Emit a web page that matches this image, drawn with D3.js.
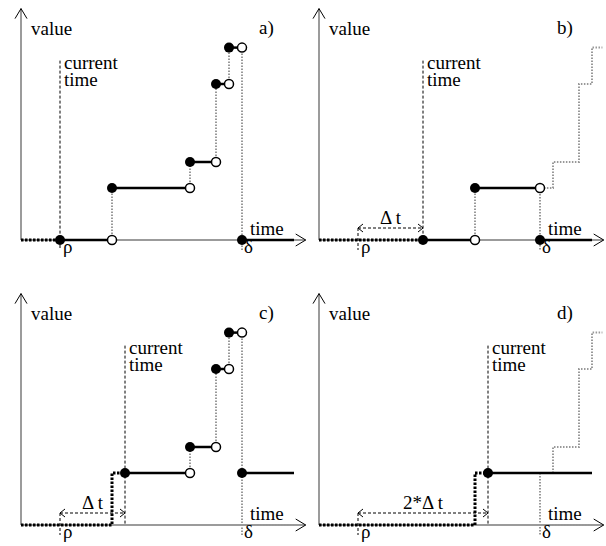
<!DOCTYPE html>
<html>
<head>
<meta charset="utf-8">
<script src="https://cdn.jsdelivr.net/npm/d3@7"></script>
<style>
body{margin:0;background:#fff;}
</style>
</head>
<body>
<svg id="chart"></svg>
<script>
// value levels of the step function
var levels = [0, 2, 3, 6, 7.4];
// times (in steps)
var rho = 3, delta = 17, dt = 5;
var panelNames = ["a)", "b)", "c)", "d)"];
var currentTimes = [3, 8, 8, 13];
var arrowLabels = [null, "\u0394 t", "\u0394 t", "2*\u0394 t"];

// solid steps: [start, end, value, open circle at end]
var stepsA = [[3,7,0,1],[7,13,2,1],[13,15,3,1],[15,16,6,1],[16,17,7.4,1],[17,21,0,0]];
var stepsB = [[8,12,0,1],[12,17,2,1],[17,21,0,0]];
var stepsC = [[8,13,2,1],[13,15,3,1],[15,16,6,1],[16,17,7.4,1],[17,21,2,0]];
var stepsD = [[13,21,2,0]];

// grey dotted jumps: [time, from value, to value]
var jumpsA = [[7,0,2],[13,2,3],[15,3,6],[16,6,7.4],[17,7.4,-0.4]];
var jumpsB = [[12,0,2],[17,2,-0.4]];
var jumpsC = [[13,2,3],[15,3,6],[16,6,7.4],[17,7.4,-0.4]];
var jumpsD = [[17,2,-0.4]];

// past values (thick dotted)
var pastA = [[0,0],[3,0]];
var pastB = [[0,0],[8,0]];
var pastC = [[0,0],[7,0],[7,2],[8,2]];
var pastD = [[0,0],[12,0],[12,2],[13,2]];

// values beyond delta (grey dotted)
var futureB = [[17.3,2],[18,2],[18,3],[20,3],[20,6],[21,6],[21,7.4],[21.8,7.4]];
var futureC = [[17,0],[21,0]];
var futureD = [[17,0],[21,0],null,[18,2],[18,3],[20,3],[20,6],[21,6],[21,7.4],[21.8,7.4]];

var panels = [
  {steps: stepsA, jumps: jumpsA, past: pastA, future: null},
  {steps: stepsB, jumps: jumpsB, past: pastB, future: futureB},
  {steps: stepsC, jumps: jumpsC, past: pastC, future: futureC},
  {steps: stepsD, jumps: jumpsD, past: pastD, future: futureD}
];
var origins = [[21,240],[319,240],[21,525],[319,525]];

var width = 606, height = 546;
var svg = d3.select("#chart").attr("width", width).attr("height", height);

var x = d3.scaleLinear().domain([0, 22]).range([0, 286]);
var y = d3.scaleLinear().domain([0, 8]).range([0, -208]);
var line = d3.line()
  .defined(function(d){ return d !== null; })
  .x(function(d){ return x(d[0]); })
  .y(function(d){ return y(d[1]); });

function label(g, txt, px, py, anchor){
  return g.append("text").text(txt)
    .attr("x", px).attr("y", py)
    .style("font-family", "Liberation Serif")
    .style("font-size", "19px")
    .attr("fill", "#000")
    .attr("text-anchor", anchor || "start");
}

panels.forEach(function(p, i){
  var g = svg.append("g")
    .attr("transform", "translate(" + origins[i][0] + "," + origins[i][1] + ")");
  var tNow = currentTimes[i];

  // axes
  var axisColor = "#7a7a7a";
  g.append("line").attr("x1", 0).attr("y1", 0).attr("x2", 0).attr("y2", y(8.9))
    .attr("stroke", axisColor).attr("stroke-width", 1.5);
  g.append("path").attr("d", "M-6," + (y(8.9) + 10) + "L0," + y(8.9) + "L6," + (y(8.9) + 10))
    .attr("fill", "none").attr("stroke", "#000").attr("stroke-width", 1);
  g.append("line").attr("x1", 0).attr("y1", 0).attr("x2", x(21.9)).attr("y2", 0)
    .attr("stroke", axisColor).attr("stroke-width", 1.5);
  g.append("path").attr("d", "M" + (x(21.9) - 10) + ",-6L" + x(21.9) + ",0L" + (x(21.9) - 10) + ",6")
    .attr("fill", "none").attr("stroke", "#000").attr("stroke-width", 1);

  // current time line
  g.append("line").attr("x1", x(tNow)).attr("x2", x(tNow))
    .attr("y1", y(6.9)).attr("y2", 0)
    .attr("stroke", "#000").attr("stroke-width", 1).attr("stroke-dasharray", "3,2");

  // rho tick below the axis
  var rhoTop = arrowLabels[i] ? -12 : 0;
  g.append("line").attr("x1", x(rho)).attr("x2", x(rho)).attr("y1", rhoTop).attr("y2", 10)
    .attr("stroke", "#000").attr("stroke-width", 1).attr("stroke-dasharray", "3,2");

  // delta-t arrow
  if (arrowLabels[i]) {
    g.append("line").attr("x1", x(rho)).attr("x2", x(tNow)).attr("y1", -12).attr("y2", -12)
      .attr("stroke", "#000").attr("stroke-width", 1).attr("stroke-dasharray", "3,2");
    g.append("path").attr("d", "M" + (x(rho) + 5) + ",-16L" + x(rho) + ",-12L" + (x(rho) + 5) + ",-8")
      .attr("fill", "none").attr("stroke", "#000").attr("stroke-width", 1);
    g.append("path").attr("d", "M" + (x(tNow) - 5) + ",-16L" + x(tNow) + ",-12L" + (x(tNow) - 5) + ",-8")
      .attr("fill", "none").attr("stroke", "#000").attr("stroke-width", 1);
    label(g, arrowLabels[i], (x(rho) + x(tNow)) / 2, -16, "middle");
  }

  // grey dotted jumps
  g.selectAll("line.jump")
    .data(p.jumps)
    .enter()
    .append("line")
    .attr("class", "jump")
    .attr("x1", function(d){ return x(d[0]); })
    .attr("x2", function(d){ return x(d[0]); })
    .attr("y1", function(d){ return y(d[1]); })
    .attr("y2", function(d){ return y(d[2]); })
    .attr("stroke", "#999").attr("stroke-width", 2).attr("stroke-dasharray", "1.5,1.5");

  // values beyond delta
  if (p.future) {
    g.append("path").datum(p.future).attr("d", line)
      .attr("fill", "none").attr("stroke", "#999").attr("stroke-width", 2)
      .attr("stroke-dasharray", "1.5,1.5");
  }

  // past values
  g.append("path").datum(p.past).attr("d", line)
    .attr("fill", "none").attr("stroke", "#000").attr("stroke-width", 3)
    .attr("stroke-dasharray", "2.5,1.5");

  // solid steps
  g.selectAll("line.step")
    .data(p.steps)
    .enter()
    .append("line")
    .attr("class", "step")
    .attr("x1", function(d){ return x(d[0]); })
    .attr("x2", function(d){ return x(d[1]); })
    .attr("y1", function(d){ return y(d[2]); })
    .attr("y2", function(d){ return y(d[2]); })
    .attr("stroke", "#000").attr("stroke-width", 2.5);

  g.selectAll("circle.open")
    .data(p.steps.filter(function(d){ return d[3]; }))
    .enter()
    .append("circle")
    .attr("class", "open")
    .attr("cx", function(d){ return x(d[1]); })
    .attr("cy", function(d){ return y(d[2]); })
    .attr("r", 4.5)
    .attr("fill", "#fff").attr("stroke", "#000").attr("stroke-width", 1.5);

  g.selectAll("circle.filled")
    .data(p.steps)
    .enter()
    .append("circle")
    .attr("class", "filled")
    .attr("cx", function(d){ return x(d[0]); })
    .attr("cy", function(d){ return y(d[2]); })
    .attr("r", 5)
    .attr("fill", "#000");

  // labels
  label(g, "value", 10, -205);
  label(g, panelNames[i], 238, -206);
  label(g, "time", 229, -5);
  label(g, "current", x(tNow) + 4, -171);
  label(g, "time", x(tNow) + 4, -154);
  label(g, "\u03c1", x(rho) + 3, 13);
  label(g, "\u03b4", x(delta) + 2, 13);
});
</script>
</body>
</html>
